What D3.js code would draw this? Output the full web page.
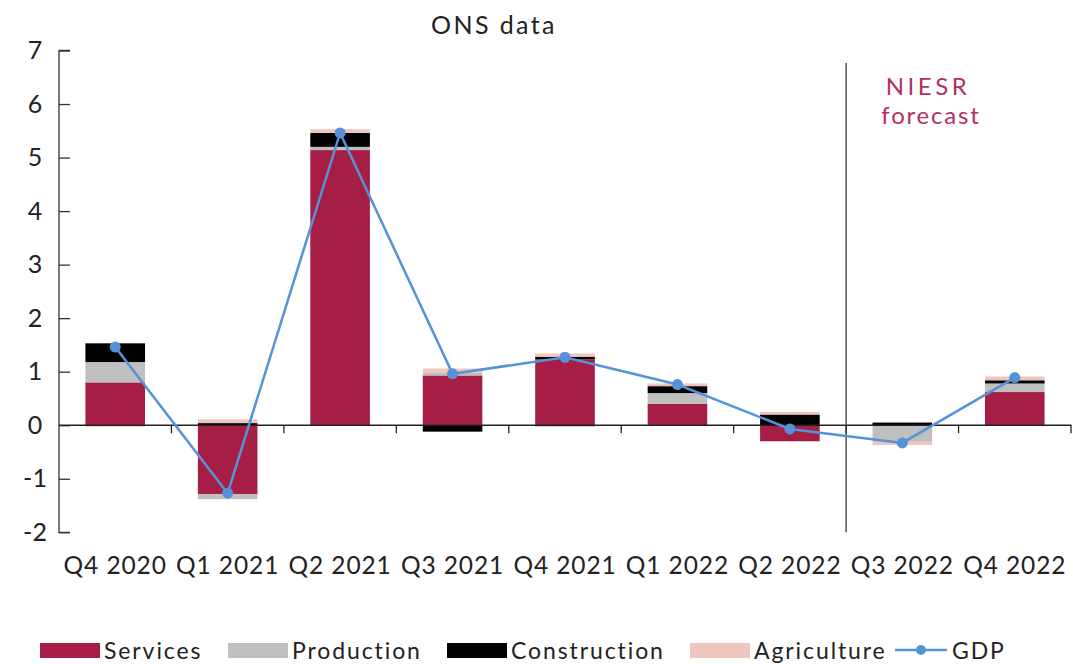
<!DOCTYPE html>
<html><head><meta charset="utf-8">
<script src="https://cdn.jsdelivr.net/npm/d3@7"></script>
<style>body{margin:0;background:#fff}svg{display:block}text{font-family:Lato,"Open Sans",sans-serif}</style>
</head><body><svg id="c" width="1073" height="664"></svg>
<script>
const categories = ["Q4 2020","Q1 2021","Q2 2021","Q3 2021","Q4 2021","Q1 2022","Q2 2022","Q3 2022","Q4 2022"];
const services     = [0.80, -1.29, 5.14, 0.93, 1.23, 0.40, -0.30, 0.00, 0.62];
const production   = [0.38, -0.09, 0.06, 0.05, -0.03, 0.20, 0.00, -0.31, 0.16];
const construction = [0.35, 0.04, 0.26, -0.12, 0.05, 0.13, 0.20, 0.05, 0.06];
const agriculture  = [-0.03, 0.07, 0.07, 0.08, 0.06, 0.05, 0.05, -0.06, 0.07];
const gdp          = [1.46, -1.27, 5.46, 0.96, 1.27, 0.76, -0.07, -0.33, 0.89];
const yTicks = [-2,-1,0,1,2,3,4,5,6,7];
const seriesNames = ["Services","Production","Construction","Agriculture"];
const colors = {Services:"#a61e45", Production:"#bfbfbf", Construction:"#000000", Agriculture:"#f0c5bd"};
const gdpColor = "#5592d8";

const svg = d3.select("#c");
const L = 59, R = 1071, T = 50.5, B = 532.3;
const x = d3.scaleBand().domain(categories).range([L, R]).paddingInner(0.47).paddingOuter(0.235);
const xr = d3.scaleBand().domain(categories).range([L, R]);
const y = d3.scaleLinear().domain([-2, 7]).range([B, T]);

const rows = categories.map((c,i)=>({cat:c, Services:services[i], Production:production[i], Construction:construction[i], Agriculture:agriculture[i]}));
const stack = d3.stack().keys(seriesNames).offset(d3.stackOffsetDiverging)(rows);

svg.selectAll("g.s").data(stack).join("g").attr("fill", d=>colors[d.key])
  .selectAll("rect").data(d=>d).join("rect")
  .attr("x", d=>x(d.data.cat)).attr("width", x.bandwidth())
  .attr("y", d=>y(Math.max(d[0],d[1]))).attr("height", d=>Math.abs(y(d[0])-y(d[1])));

// y axis
const ya = svg.append("g").attr("transform",`translate(${L},0)`)
  .call(d3.axisRight(y).tickValues(yTicks).tickSize(11).tickFormat(""));
ya.select(".domain").attr("stroke","#333").attr("stroke-width",1.3).attr("d",`M11,${T}H0V${B}H11`);
ya.selectAll(".tick line").attr("stroke","#333").attr("stroke-width",1.3);
svg.append("g").selectAll("text").data(yTicks).join("text")
  .attr("x", 35).attr("y", d=>y(d)+8.5).attr("text-anchor","middle")
  .attr("font-size",25).attr("fill","#222").text(d=>d);

// x axis at zero
const xa = svg.append("g").attr("transform",`translate(0,${y(0)})`)
  .call(d3.axisBottom(xr).tickSize(0).tickFormat(""));
xa.select(".domain").attr("stroke","#222").attr("stroke-width",1.3).attr("d",`M${L},0H${R}V8`);
xa.selectAll(".tick").remove();
svg.append("g").selectAll("line").data(categories.slice(1)).join("line")
  .attr("x1", d=>xr(d)).attr("x2", d=>xr(d)).attr("y1", y(0)).attr("y2", y(0)+8)
  .attr("stroke","#222").attr("stroke-width",1.3);
svg.append("g").selectAll("text").data(categories).join("text")
  .attr("x", d=>xr(d)+xr.bandwidth()/2).attr("y", 574).attr("text-anchor","middle")
  .attr("font-size",24.5).attr("letter-spacing",0.9).attr("fill","#222").text(d=>d);

// forecast divider
svg.append("line").attr("x1", xr("Q3 2022")).attr("x2", xr("Q3 2022"))
  .attr("y1", 63).attr("y2", B).attr("stroke","#333").attr("stroke-width",1.3);
svg.append("text").attr("x",928).attr("y",95).attr("text-anchor","middle").attr("font-size",24).attr("letter-spacing",3.5).attr("fill","#b5305e").text("NIESR");
svg.append("text").attr("x",931).attr("y",124).attr("text-anchor","middle").attr("font-size",24).attr("letter-spacing",1.8).attr("fill","#b5305e").text("forecast");

// title
svg.append("text").attr("x",494).attr("y",34).attr("text-anchor","middle").attr("font-size",25).attr("letter-spacing",2.4).attr("fill","#222").text("ONS data");

// GDP line
const cx = d=>xr(d)+xr.bandwidth()/2;
const line = d3.line().x((d,i)=>cx(categories[i])).y(d=>y(d));
svg.append("path").datum(gdp).attr("d",line).attr("fill","none").attr("stroke",gdpColor).attr("stroke-width",2.5);
svg.append("g").selectAll("circle").data(gdp).join("circle")
  .attr("cx",(d,i)=>cx(categories[i])).attr("cy",d=>y(d)).attr("r",5.5).attr("fill",gdpColor);

// legend
const legX = [40, 228, 447, 690];
const lg = svg.append("g");
seriesNames.forEach((n,i)=>{
  lg.append("rect").attr("x",legX[i]).attr("y",643).attr("width",60).attr("height",15).attr("fill",colors[n]);
  lg.append("text").attr("x",legX[i]+64).attr("y",659).attr("font-size",23).attr("letter-spacing",1.9).attr("fill","#222").text(n);
});
lg.append("line").attr("x1",895).attr("x2",947).attr("y1",650).attr("y2",650).attr("stroke",gdpColor).attr("stroke-width",2.5);
lg.append("circle").attr("cx",921).attr("cy",650).attr("r",5).attr("fill",gdpColor);
lg.append("text").attr("x",952).attr("y",659).attr("font-size",23).attr("letter-spacing",1.9).attr("fill","#222").text("GDP");
</script></body></html>
